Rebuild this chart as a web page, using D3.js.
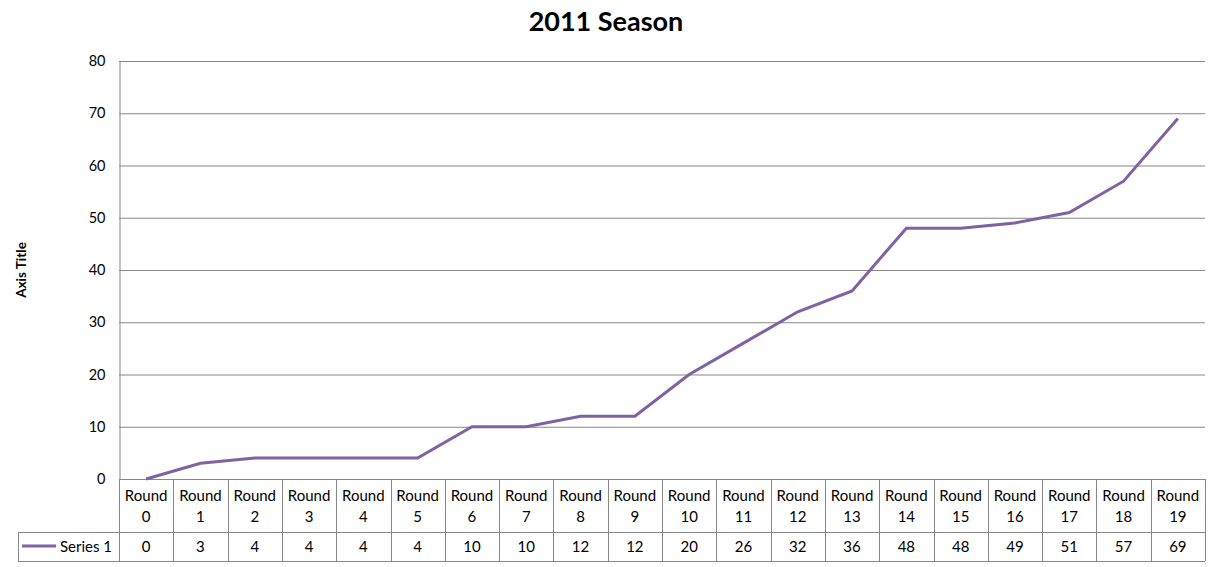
<!DOCTYPE html>
<html><head><meta charset="utf-8">
<script src="https://cdn.jsdelivr.net/npm/d3@7"></script>
<style>body{margin:0;background:#fff}svg{display:block;font-family:Lato,"Liberation Sans",sans-serif}</style>
</head><body><svg id="c" width="1213" height="567"></svg>
<script>
const title = "2011 Season";
const axisTitle = "Axis Title";
const seriesName = "Series 1";
const categories = ["Round 0","Round 1","Round 2","Round 3","Round 4","Round 5","Round 6","Round 7","Round 8","Round 9","Round 10","Round 11","Round 12","Round 13","Round 14","Round 15","Round 16","Round 17","Round 18","Round 19"];
const values = [0,3,4,4,4,4,10,10,12,12,20,26,32,36,48,48,49,51,57,69];
const yTicks = [0,10,20,30,40,50,60,70,80];

const svg = d3.select("#c");
const L = 119, R = 1205, T = 61, B = 479;
const hdrB = 532, rowB = 561, legL = 18;
const grid = "#868686", lineC = "#7f62a1";

const x = d3.scaleBand().domain(categories).range([L, R]);
const y = d3.scaleLinear().domain([0, 80]).range([B, T]);

svg.append("text").attr("x", 606).attr("y", 31).attr("text-anchor","middle")
  .attr("font-size", 27).attr("font-weight","bold").text(title);

// gridlines
svg.append("g").selectAll("line").data(yTicks).join("line")
  .attr("x1", L).attr("x2", R).attr("y1", d=>y(d)+0.5).attr("y2", d=>y(d)+0.5)
  .attr("stroke", grid).attr("stroke-width",1);
// y axis
const ya = svg.append("g").attr("transform", `translate(${L+0.5},0)`)
  .call(d3.axisLeft(y).tickValues(yTicks).tickSize(0).tickPadding(14));
ya.select(".domain").attr("stroke", grid);
ya.selectAll("text").attr("font-size", 14.5).attr("fill","#000").attr("font-family","Lato,'Liberation Sans',sans-serif");

svg.append("text").attr("transform", `translate(26,${(T+B)/2}) rotate(-90)`)
  .attr("text-anchor","middle").attr("font-size",13.5).attr("font-weight","bold").text(axisTitle);

// table
const tg = svg.append("g");
const xs = categories.map(c => x(c)).concat([R]);
tg.selectAll("line.v").data(xs).join("line").attr("class","v")
  .attr("x1", d=>Math.round(d)+0.5).attr("x2", d=>Math.round(d)+0.5)
  .attr("y1", B).attr("y2", rowB).attr("stroke", grid);
tg.append("line").attr("x1", legL).attr("x2", R).attr("y1", hdrB+0.5).attr("y2", hdrB+0.5).attr("stroke", grid);
tg.append("line").attr("x1", legL).attr("x2", R).attr("y1", rowB+0.5).attr("y2", rowB+0.5).attr("stroke", grid);
tg.append("line").attr("x1", legL+0.5).attr("x2", legL+0.5).attr("y1", hdrB).attr("y2", rowB).attr("stroke", grid);

categories.forEach(c => {
  const parts = c.split(" ");
  const t = tg.append("text").attr("text-anchor","middle").attr("font-size",15).attr("fill","#000");
  t.append("tspan").attr("x", x(c)+x.bandwidth()/2).attr("y", 501).text(parts[0]);
  t.append("tspan").attr("x", x(c)+x.bandwidth()/2).attr("y", 522).text(parts[1]);
});
tg.selectAll("text.val").data(values).join("text").attr("class","val")
  .attr("x", (d,i)=>x(categories[i])+x.bandwidth()/2).attr("y", 552)
  .attr("text-anchor","middle").attr("font-size",15).attr("fill","#000").text(d=>d);
tg.append("line").attr("x1",22).attr("x2",56).attr("y1",546).attr("y2",546).attr("stroke",lineC).attr("stroke-width",3);
tg.append("text").attr("x",60).attr("y",552).attr("font-size",15).attr("fill","#000").text(seriesName);

// line
svg.append("path").datum(values)
  .attr("d", d3.line().x((d,i)=>x(categories[i])+x.bandwidth()/2).y(d=>y(d)))
  .attr("fill","none").attr("stroke", lineC).attr("stroke-width",3);
</script></body></html>
